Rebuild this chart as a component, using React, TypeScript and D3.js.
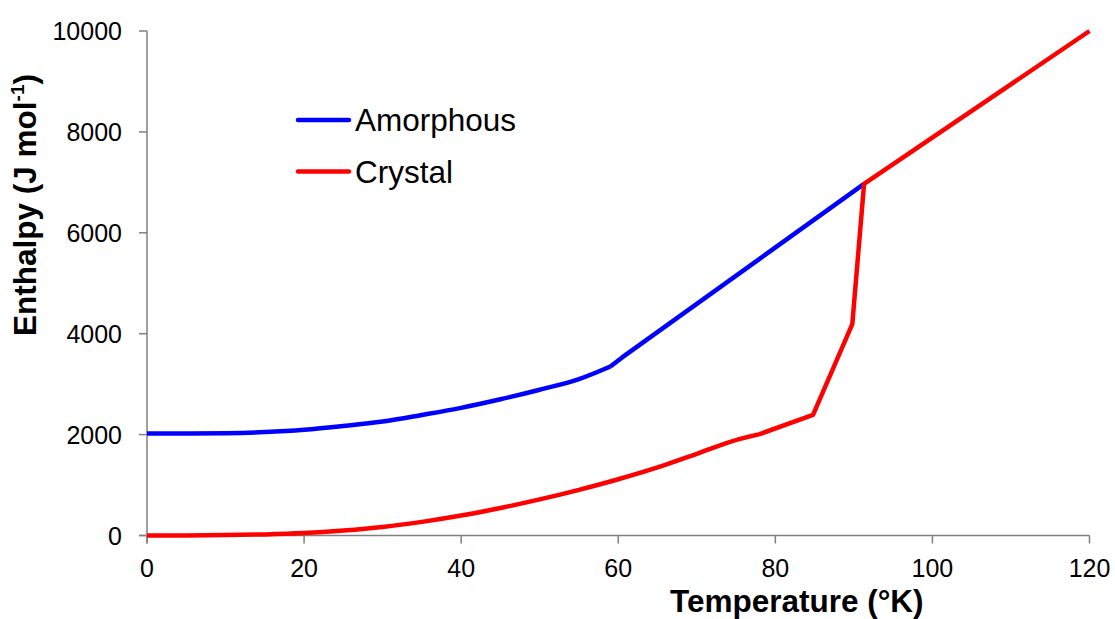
import React from "react";
import * as d3 from "d3";

// Temperature (K) and enthalpy (J/mol)
// smooth part (drawn with a monotone curve) and straight part (linear)
const amorphousCurveT = [0, 5, 10, 15, 20, 25, 30, 35, 40, 45, 50, 55, 59];
const amorphousCurveH = [2020, 2022, 2028, 2050, 2095, 2170, 2260, 2390, 2530, 2700, 2890, 3100, 3350];
const amorphousLineT = [59, 60.5, 91.3];
const amorphousLineH = [3350, 3530, 6970];

const crystalCurveT = [0, 5, 10, 15, 20, 25, 30, 35, 40, 45, 50, 55, 60, 65, 70, 75.5, 77];
const crystalCurveH = [0, 2, 8, 22, 50, 100, 170, 270, 395, 545, 715, 905, 1115, 1350, 1620, 1915, 1975];
const crystalLineT = [77, 76.3, 78, 84.8, 89.8, 91.3, 120];
const crystalLineH = [1975, 1945, 2010, 2390, 4190, 6970, 10000];

const xTicks = [0, 20, 40, 60, 80, 100, 120];
const yTicks = [0, 2000, 4000, 6000, 8000, 10000];

const legendItems = [
  { name: "Amorphous", color: "#0000ff" },
  { name: "Crystal", color: "#ff0000" },
];

const width = 1115;
const height = 619;
const margin = { top: 31, right: 25, bottom: 83, left: 147 };
const font = "Arial, 'Liberation Sans', sans-serif";

const pairs = (ts: number[], hs: number[]) => ts.map((t, i) => [t, hs[i]] as [number, number]);

export default function App() {
  const x = d3
    .scaleLinear()
    .domain([0, 120])
    .range([margin.left, width - margin.right - 0.5]);
  const y = d3
    .scaleLinear()
    .domain([0, 10000])
    .range([height - margin.bottom - 0.5, margin.top]);

  const smooth = d3
    .line<[number, number]>()
    .x((d) => x(d[0]))
    .y((d) => y(d[1]))
    .curve(d3.curveMonotoneX);
  const straight = d3
    .line<[number, number]>()
    .x((d) => x(d[0]))
    .y((d) => y(d[1]));

  const series = [
    {
      color: "#0000ff",
      d: (smooth(pairs(amorphousCurveT, amorphousCurveH)) || "") + (straight(pairs(amorphousLineT, amorphousLineH)) || ""),
    },
    {
      color: "#ff0000",
      d: (smooth(pairs(crystalCurveT, crystalCurveH)) || "") + (straight(pairs(crystalLineT, crystalLineH)) || ""),
    },
  ];

  const x0 = x(0);
  const y0 = y(0);
  const axisColor = "#808080";

  return (
    <div style={{ position: "absolute", left: 0, top: 0 }}>
      <svg width={width} height={height} style={{ display: "block", background: "#fff" }}>
        {/* axes */}
        <g stroke={axisColor} strokeWidth={1.5} fill="none">
          <line x1={x0} x2={x0} y1={y(10000)} y2={y0 + 8} />
          <line x1={x0 - 8} x2={x(120)} y1={y0} y2={y0} />
          {yTicks.map((v) => (
            <line key={"yt" + v} x1={x0 - 8} x2={x0} y1={y(v)} y2={y(v)} />
          ))}
          {xTicks.map((v) => (
            <line key={"xt" + v} x1={x(v)} x2={x(v)} y1={y0} y2={y0 + 8} />
          ))}
        </g>
        <g fontFamily={font} fontSize={25} fill="#000">
          {yTicks.map((v) => (
            <text key={"yl" + v} x={122} y={y(v) + 9} textAnchor="end">
              {v}
            </text>
          ))}
          {xTicks.map((v) => (
            <text key={"xl" + v} x={x(v)} y={577} textAnchor="middle">
              {v}
            </text>
          ))}
        </g>

        {/* series */}
        {series.map((s) => (
          <path key={s.color} d={s.d} fill="none" stroke={s.color} strokeWidth={4.5} strokeLinejoin="round" />
        ))}

        {/* legend */}
        {legendItems.map((d, i) => (
          <g key={d.name} transform={`translate(0,${120 + i * 51.5})`}>
            <line x1={298} x2={349} y1={0} y2={0} stroke={d.color} strokeWidth={4.5} strokeLinecap="round" />
            <text x={355} y={11} fontFamily={font} fontSize={31.5} fill="#000">
              {d.name}
            </text>
          </g>
        ))}

        {/* axis titles */}
        <text x={670} y={612} fontFamily={font} fontSize={31.5} fontWeight="bold" fill="#000">
          Temperature (°K)
        </text>
        <text
          transform="translate(36,205) rotate(-90)"
          textAnchor="middle"
          fontFamily={font}
          fontSize={31.5}
          fontWeight="bold"
          fill="#000"
        >
          Enthalpy (J mol
          <tspan fontSize={19} dy={-12}>-1</tspan>
          <tspan dy={12}>)</tspan>
        </text>
      </svg>
    </div>
  );
}
